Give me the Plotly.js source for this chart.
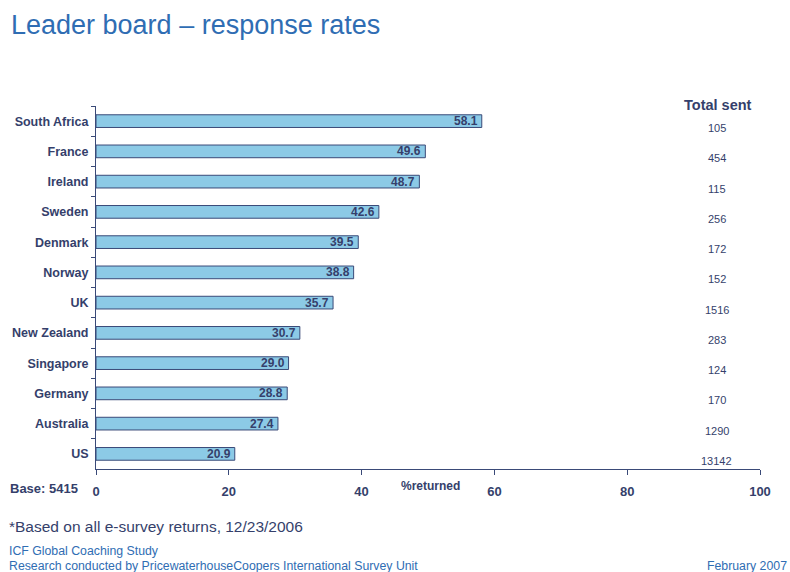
<!DOCTYPE html>
<html><head><meta charset="utf-8">
<script src="https://cdn.plot.ly/plotly-3.0.1.min.js"></script>
<style>html,body{margin:0;padding:0;background:#fff}#c{width:790px;height:572px}</style>
</head><body><div id="c"></div>
<script>
const countries = ["South Africa","France","Ireland","Sweden","Denmark","Norway","UK","New Zealand","Singapore","Germany","Australia","US"];
const rates = [58.1,49.6,48.7,42.6,39.5,38.8,35.7,30.7,29.0,28.8,27.4,20.9];
const totalSent = [105,454,115,256,172,152,1516,283,124,170,1290,13142];
const xTicks = [0,20,40,60,80,100];

const navy = "#353f6b";
const blue = "#2f6db3";
const font = "Liberation Sans, Arial, sans-serif";

const bars = {
  type: "bar", orientation: "h",
  x: rates, y: countries,
  width: 0.42,
  marker: {color: "#8ccae6", line: {color: "#3a4a78", width: 1}},
  hoverinfo: "skip"
};

const annotations = rates.map((v, i) => ({
  x: v, y: countries[i], xref: "x", yref: "y", text: "<b>" + v.toFixed(1) + "</b>",
  showarrow: false, xanchor: "right", xshift: -2,
  font: {family: font, size: 12, color: navy}
}));

totalSent.forEach((v, i) => annotations.push({
  x: 93.5, y: countries[i], xref: "x", yref: "y", text: String(v),
  showarrow: false, xanchor: "center", yshift: -7,
  font: {family: font, size: 11, color: navy}
}));

const T = 106, B = 469, L = 96, R = 760;
const px = x => (x - L) / (R - L);
const py = y => (B - y) / (B - T);

annotations.push(
  {xref: "paper", yref: "paper", x: px(718), xanchor: "center", y: py(105), yanchor: "middle", text: "<b>Total sent</b>", showarrow: false, font: {family: font, size: 14.5, color: navy}},
  {xref: "paper", yref: "paper", x: px(431), xanchor: "center", y: py(486), yanchor: "middle", text: "<b>%returned</b>", showarrow: false, font: {family: font, size: 12, color: navy}},
  {xref: "paper", yref: "paper", x: px(8), xanchor: "left", y: py(488), yanchor: "middle", text: "<b>Base: 5415</b>", showarrow: false, font: {family: font, size: 13, color: navy}},
  {xref: "paper", yref: "paper", x: px(7), xanchor: "left", y: py(526), yanchor: "middle", text: "*Based on all e-survey returns, 12/23/2006", showarrow: false, font: {family: font, size: 15.5, color: navy}},
  {xref: "paper", yref: "paper", x: px(7), xanchor: "left", y: py(551), yanchor: "middle", text: "ICF Global Coaching Study", showarrow: false, font: {family: font, size: 12.3, color: blue}},
  {xref: "paper", yref: "paper", x: px(7), xanchor: "left", y: py(566), yanchor: "middle", text: "Research conducted by PricewaterhouseCoopers International Survey Unit", showarrow: false, font: {family: font, size: 12.3, color: blue}},
  {xref: "paper", yref: "paper", x: px(789), xanchor: "right", y: py(566), yanchor: "middle", text: "February 2007", showarrow: false, font: {family: font, size: 12.3, color: blue}}
);

const layout = {
  width: 790, height: 572,
  margin: {l: L, r: 790 - R, t: T, b: 572 - B},
  paper_bgcolor: "#fff", plot_bgcolor: "#fff",
  showlegend: false,
  title: {text: "Leader board – response rates", x: 11/790, xanchor: "left", y: 1 - 25/572, yanchor: "middle",
          font: {family: font, size: 27, color: blue}},
  xaxis: {range: [0, 100], tickvals: xTicks, ticktext: xTicks.map(String), showgrid: false, zeroline: false,
          showline: true, linecolor: "#3a4a78", linewidth: 1, ticks: "outside", ticklen: 5, tickcolor: "#3a4a78",
          tickfont: {family: font, size: 13, color: navy, weight: "bold"}, ticklabelstandoff: 5, fixedrange: true},
  yaxis: {autorange: "reversed", showgrid: false, zeroline: false, showline: true, linecolor: "#3a4a78", linewidth: 1,
          ticks: "outside", tickson: "boundaries", ticklen: 4, tickcolor: "#3a4a78",
          tickfont: {family: font, size: 12.5, color: navy, weight: "bold"}, ticklabelstandoff: 4, fixedrange: true},
  annotations: annotations
};

Plotly.newPlot("c", [bars], layout, {displayModeBar: false, staticPlot: true});
</script></body></html>
